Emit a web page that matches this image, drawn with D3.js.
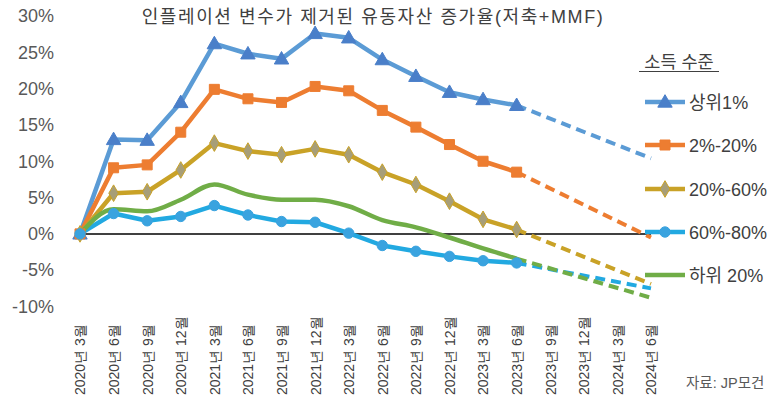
<!DOCTYPE html>
<html><head><meta charset="utf-8">
<script src="https://cdn.jsdelivr.net/npm/d3@7"></script>
<style>
body{margin:0;background:#fff;}
svg{display:block;font-family:"Liberation Sans","Noto Sans CJK KR",Arial,sans-serif;}
</style></head>
<body><svg id="c" width="777" height="406"></svg>
<script>
const categories = ["2020년 3월","2020년 6월","2020년 9월","2020년 12월","2021년 3월","2021년 6월","2021년 9월","2021년 12월","2022년 3월","2022년 6월","2022년 9월","2022년 12월","2023년 3월","2023년 6월","2023년 9월","2023년 12월","2024년 3월","2024년 6월"];
const seriesNames = ["상위1%","2%-20%","20%-60%","60%-80%","하위 20%"];
const top1     = [0, 13.0, 12.9, 18.1, 26.2, 24.8, 24.1, 27.6, 27.0, 24.0, 21.7, 19.5, 18.5, 17.7];
const p2to20   = [0, 9.1, 9.5, 14.0, 19.9, 18.6, 18.1, 20.3, 19.7, 17.0, 14.7, 12.3, 10.0, 8.5];
const p20to60  = [0, 5.6, 5.8, 8.8, 12.5, 11.4, 10.9, 11.7, 10.9, 8.5, 6.8, 4.5, 2.0, 0.6];
const p60to80  = [0, 2.8, 1.8, 2.4, 3.9, 2.6, 1.7, 1.6, 0.1, -1.6, -2.4, -3.1, -3.7, -4.0];
const bottom20 = [0, 3.4, 3.1, 4.7, 6.8, 5.4, 4.7, 4.7, 3.8, 1.9, 0.9, -0.5, -2.0, -3.4];
// projection end values (2024년 6월)
const projected = [10.4, -0.5, -6.9, -7.5, -8.8];
const yTicks = [-10, -5, 0, 5, 10, 15, 20, 25, 30];

const svg = d3.select("#c");
const x = d3.scalePoint().domain(categories).range([80, 651]);
const y = d3.scaleLinear().domain([-10, 30]).range([306.5, 16]);

const colors = ["#5B9BD5", "#ED7D31", "#C9A227", "#22A9E1", "#70AD47"];
const markFill = ["#4A7FC9", "#ED7D31", "#A79E78", "#3AA3DF", null];
const markStroke = ["#4A7FC9", "#ED7D31", "#C9A227", "#3AA3DF", null];
const symbols = [d3.symbolTriangle, d3.symbolSquare, d3.symbolDiamond, d3.symbolCircle, null];
const symSize = [90, 100, 80, 85, 0];
const data = [top1, p2to20, p20to60, p60to80, bottom20];

// Title
svg.append("text").attr("x", 373).attr("y", 23).attr("text-anchor", "middle")
  .attr("font-size", 18).attr("letter-spacing", 1.6).attr("fill", "#404040")
  .text("인플레이션 변수가 제거된 유동자산 증가율(저축+MMF)");

// Y axis
const yAxis = svg.append("g").attr("transform", "translate(54,0)")
  .call(d3.axisLeft(y).tickValues(yTicks).tickFormat(d => d + "%").tickSize(0).tickPadding(0));
yAxis.select(".domain").remove();
yAxis.selectAll("text").attr("font-size", 18).attr("fill", "#595959")
  .attr("font-family", "Liberation Sans, Arial, sans-serif");

// X axis labels
const xAxis = svg.append("g").attr("transform", "translate(0,395)")
  .call(d3.axisBottom(x).tickSize(0).tickPadding(0));
xAxis.select(".domain").remove();
xAxis.selectAll("text").attr("font-size", 14).attr("fill", "#404040")
  .attr("transform", "rotate(-90)").attr("x", 0).attr("y", 0).attr("dy", "0.35em")
  .attr("text-anchor", "start");

// zero line
svg.append("line").attr("x1", x(categories[0])).attr("x2", x(categories[17]))
  .attr("y1", y(0)).attr("y2", y(0)).attr("stroke", "#000").attr("stroke-width", 1.5);

// projections (dashed)
data.forEach((s, i) => {
  const pts = [[categories[13], s[13]], [categories[17], projected[i]]];
  svg.append("path").datum(pts)
    .attr("d", d3.line().x(d => x(d[0])).y(d => y(d[1])))
    .attr("fill", "none").attr("stroke", colors[i]).attr("stroke-width", 4)
    .attr("stroke-dasharray", "10,6");
});

// solid lines
data.forEach((s, i) => {
  const pts = s.map((v, j) => [categories[j], v]);
  svg.append("path").datum(pts)
    .attr("d", d3.line().x(d => x(d[0])).y(d => y(d[1]))
      .curve(i === 4 ? d3.curveMonotoneX : d3.curveLinear))
    .attr("fill", "none").attr("stroke", colors[i]).attr("stroke-width", 4.5)
    .attr("stroke-linejoin", "round");
});

// markers
data.forEach((s, i) => {
  if (!symbols[i]) return;
  svg.append("g").selectAll("path").data(s).join("path")
    .attr("transform", (v, j) => `translate(${x(categories[j])},${y(v) + (i === 0 ? 1 : 0)})`)
    .attr("d", d3.symbol().type(symbols[i]).size(symSize[i]))
    .attr("fill", markFill[i]).attr("stroke", markStroke[i]).attr("stroke-width", 1);
});

// Legend
svg.append("text").attr("x", 679).attr("y", 68).attr("text-anchor", "middle")
  .attr("font-size", 17.5).attr("fill", "#404040").text("소득 수준");
svg.append("line").attr("x1", 639).attr("x2", 719).attr("y1", 71.5).attr("y2", 71.5)
  .attr("stroke", "#404040").attr("stroke-width", 1.2);
const legY = [102, 145, 189, 232, 275];
seriesNames.forEach((n, i) => {
  const g = svg.append("g").attr("transform", `translate(0,${legY[i]})`);
  g.append("line").attr("x1", 645).attr("x2", 685).attr("y1", 0).attr("y2", 0)
    .attr("stroke", colors[i]).attr("stroke-width", 4.5);
  if (symbols[i]) g.append("path").attr("transform", `translate(665,${i === 0 ? 1 : 0})`)
    .attr("d", d3.symbol().type(symbols[i]).size(symSize[i]))
    .attr("fill", markFill[i]).attr("stroke", markStroke[i]).attr("stroke-width", 1);
  g.append("text").attr("x", 689).attr("y", 6.5).attr("font-size", 18)
    .attr("fill", "#404040").text(n);
});

// source
svg.append("text").attr("x", 686).attr("y", 388).attr("font-size", 14.5)
  .attr("fill", "#595959").text("자료: JP모건");
</script></body></html>
